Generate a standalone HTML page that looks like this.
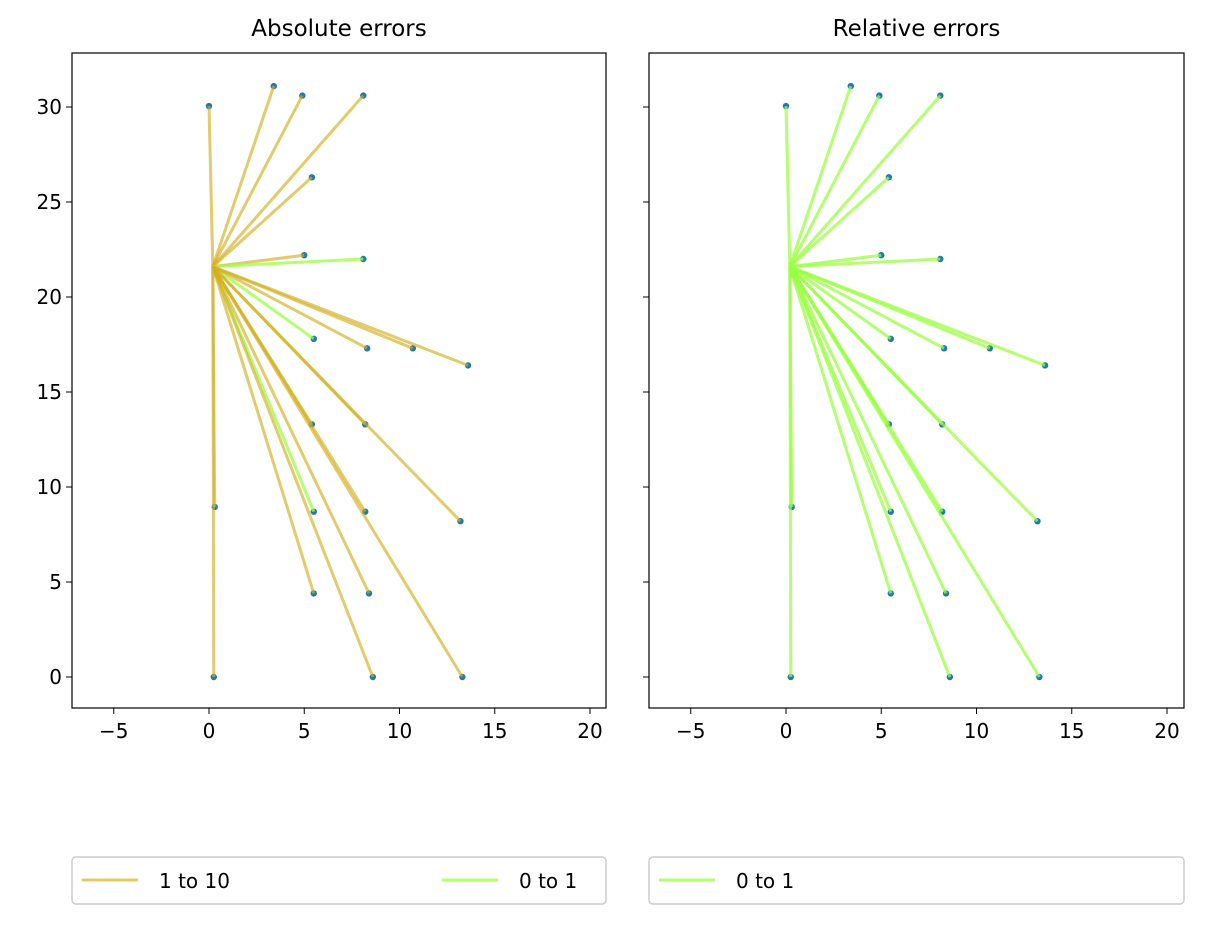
<!DOCTYPE html>
<html><head><meta charset="utf-8"><style>
body{margin:0;background:#fff;font-family:"Liberation Sans","DejaVu Sans",sans-serif;}
svg{display:block}
text{font-family:"DejaVu Sans","Liberation Sans",sans-serif;fill:#000}
</style></head><body>
<svg id="chart" width="1210" height="938"></svg>
<script>
const center=[0.2,21.6];
const ptsX=[0,3.4,4.9,8.1,5.4,5.0,8.1,5.5,8.3,10.7,13.6,5.4,8.2,13.2,0.3,5.5,8.2,5.5,8.4,8.6,13.3,0.25];
const ptsY=[30.05,31.1,30.6,30.6,26.3,22.2,22.0,17.8,17.3,17.3,16.4,13.3,13.3,8.2,8.95,8.7,8.7,4.4,4.4,0,0,0];
const absCat=[1,1,1,1,1,1,0,0,1,1,1,1,1,1,1,0,1,1,1,1,1,1];
const xTicks=[-5,0,5,10,15,20];
const yTicks=[0,5,10,15,20,25,30];
const titles=["Absolute errors","Relative errors"];
const NS="http://www.w3.org/2000/svg";
const svg=document.getElementById('chart');
function mk(t,a,p){const e=document.createElementNS(NS,t);for(const k in a)e.setAttribute(k,a[k]);(p||svg).appendChild(e);return e;}
const panels=[{x0:72,x1:606},{x0:649,x1:1184}];
const yT=53,yB=708;
const GOLD='rgba(212,175,30,0.65)',GREEN='rgba(154,255,64,0.75)';
panels.forEach((p,pi)=>{
  const xs=v=>p.x0+137+v*19.05;
  const ys=v=>677-v*19.0;
  const g=mk('g',{});
  
  
  const t=mk('text',{x:(p.x0+p.x1)/2,y:36,'text-anchor':'middle','font-size':'23'},g);t.textContent=titles[pi];
  
  ptsX.forEach((vx,i)=>{
    const c=mk('circle',{cx:xs(vx),cy:ys(ptsY[i]),r:3.2,fill:'#1f77b4'},g);
    
  });
  ptsX.forEach((vx,i)=>{
    const col=pi===0?(absCat[i]?GOLD:GREEN):GREEN;
    const l=mk('line',{x1:xs(center[0]),y1:ys(center[1]),x2:xs(vx),y2:ys(ptsY[i]),stroke:col,'stroke-width':3},g);
    
  });
  const fr=mk('rect',{x:p.x0,y:yT,width:p.x1-p.x0,height:yB-yT,fill:'none',stroke:'#000','stroke-width':1.2},g);
  
  xTicks.forEach(v=>{
    mk('line',{x1:xs(v),x2:xs(v),y1:yB,y2:yB+6,stroke:'#000'},g);
    const tx=mk('text',{x:xs(v),y:yB+30,'text-anchor':'middle','font-size':'20'},g);
    tx.textContent=v<0?'\u2212'+(-v):v;
    
  });
  yTicks.forEach(v=>{
    mk('line',{x1:p.x0-6,x2:p.x0,y1:ys(v),y2:ys(v),stroke:'#000'},g);
    if(pi===0){const ty=mk('text',{x:p.x0-10,y:ys(v)+7,'text-anchor':'end','font-size':'20'},g);ty.textContent=v;
      }
  });
  const lg=mk('g',{},g);
  
  mk('rect',{x:p.x0,y:857,width:p.x1-p.x0,height:47,rx:4,fill:'#fff',stroke:'#ccc','stroke-width':1.5},lg);
  const entries=pi===0?[['1 to 10',GOLD,p.x0+10],['0 to 1',GREEN,p.x0+370]]:[['0 to 1',GREEN,p.x0+10]];
  entries.forEach(e=>{
    mk('line',{x1:e[2],x2:e[2]+56,y1:880,y2:880,stroke:e[1],'stroke-width':3},lg);
    const tt=mk('text',{x:e[2]+77,y:888,'font-size':'20'},lg);tt.textContent=e[0];
    
  });
});
</script>
</body></html>
